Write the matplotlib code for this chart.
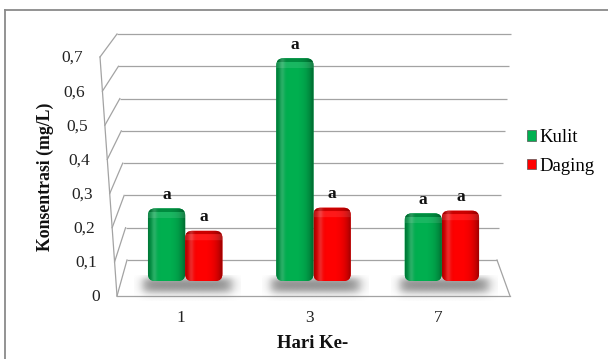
import numpy as np
import matplotlib
matplotlib.use("Agg")
import matplotlib.pyplot as plt
from matplotlib.patches import FancyBboxPatch, Patch
from matplotlib.colors import to_rgb

# ---- data ----
days = ["1", "3", "7"]
kulit = [0.220, 0.675, 0.205]
daging = [0.152, 0.222, 0.213]
kulit_sig = ["a", "a", "a"]
daging_sig = ["a", "a", "a"]
yticks = [0.0, 0.1, 0.2, 0.3, 0.4, 0.5, 0.6, 0.7]
ytick_labels = ["0", "0,1", "0,2", "0,3", "0,4", "0,5", "0,6", "0,7"]
series_names = ["Kulit", "Daging"]
series_colors = ["#00b050", "#ff0000"]

SERIF = ["Liberation Serif", "DejaVu Serif"]
GRID = "#a3a3a3"

W, H = 608, 359
fig = plt.figure(figsize=(W / 100, H / 100), dpi=100)
fig.patch.set_facecolor("white")

# pixel-space layer for the chart box, walls and text
frame = fig.add_axes([0, 0, 1, 1])
frame.set_xlim(0, W)
frame.set_ylim(H, 0)
frame.axis("off")

# outer chart border (top and left visible)
frame.plot([5, W], [9.5, 9.5], color="#8a8a8a", lw=1.3)
frame.plot([5, 5], [9.5, H], color="#8a8a8a", lw=1.3)

# ---- 3D box geometry (perspective walls) ----
vmax = yticks[-1]


def back_y(v):
    return 260 - v * (226 / vmax)


def back_left_x(v):
    return 127 - v * (10 / vmax)


def back_right_x(v):
    return 497 + v * (14 / vmax)


def front_y(v):
    return 296 - v * (239 / vmax)


def front_x(v):
    return 117 - v * (17 / vmax)


for v, lab in zip(yticks, ytick_labels):
    # back-wall gridline
    frame.plot([back_left_x(v), back_right_x(v)], [back_y(v), back_y(v)],
               color=GRID, lw=0.9, solid_capstyle="butt")
    # side-wall gridline
    frame.plot([back_left_x(v), front_x(v)], [back_y(v), front_y(v)],
               color=GRID, lw=0.9)
    frame.text(front_x(v) - 17, front_y(v) + 1, lab, ha="right", va="center",
               fontsize=12.5, family=SERIF, color="#222222")

# front edge of side wall
frame.plot([front_x(vmax), front_x(0)], [front_y(vmax), front_y(0)],
           color=GRID, lw=0.9)
# floor
frame.plot([front_x(0), 510], [front_y(0), front_y(0)], color=GRID, lw=0.9)
frame.plot([back_right_x(0), 510], [back_y(0), front_y(0)], color=GRID, lw=0.9)

# axis titles
frame.text(45, 177, "Konsentrasi (mg/L)", rotation=90, ha="center", va="center",
           fontsize=12.8, fontweight="bold", family=SERIF, color="#111111")
frame.text(313, 344, "Hari Ke-", ha="center", va="center",
           fontsize=13.5, fontweight="bold", family=SERIF, color="#111111")

# ---- bar plane (mid depth) ----
base_px = 281
px_per_unit_y = 330
ax_left, ax_right = 121, 506
ax = fig.add_axes([ax_left / W, (H - base_px) / H,
                   (ax_right - ax_left) / W, vmax * px_per_unit_y / H])
ax.set_xlim(-0.5, 2.5)
ax.set_ylim(0, vmax)
ax.axis("off")
px_per_unit_x = (ax_right - ax_left) / 3.0

x = np.arange(len(days))
w = 0.29
bars_k = ax.bar(x - w / 2, kulit, w, alpha=0)
bars_d = ax.bar(x + w / 2, daging, w, alpha=0)


def sig(z):
    return 1 / (1 + np.exp(-z))


# soft floor shadows under each bar pair
for i in x:
    left = i - w
    right = i + w
    pad_l, pad_r, pad_up, pad_dn = 14, 18, 6, 20
    wpx = (right - left) * px_per_unit_x
    px = np.linspace(-pad_l, wpx + pad_r, 120)
    py = np.linspace(-pad_up, pad_dn, 40)          # pixels below the base
    fx = sig((px + 5) / 3.0) * sig((wpx + 9 - px) / 3.5)
    fy = sig((py + 3) / 2.0) * sig((11 - py) / 2.5)
    alpha = 0.75 * fy[:, None] * fx[None, :]
    img = np.zeros((len(py), len(px), 4))
    img[..., :3] = 0.40
    img[..., 3] = alpha
    ax.imshow(img, extent=[left - pad_l / px_per_unit_x,
                           right + pad_r / px_per_unit_x,
                           -pad_dn / px_per_unit_y, pad_up / px_per_unit_y],
              origin="upper", aspect="auto", zorder=1,
              interpolation="bilinear", clip_on=False)


def shade_image(color, height_px, ncols=48):
    base = np.array(to_rgb(color))
    nrows = max(int(round(height_px)), 4)
    u = np.linspace(0, 1, ncols)
    horiz = 1 - 0.32 * (1 - np.sin(np.pi * u)) ** 2
    horiz = horiz - 0.10 * np.clip((u - 0.55) / 0.45, 0, 1)
    hl = 0.16 * np.exp(-((u - 0.16) / 0.07) ** 2)
    t = np.arange(nrows)
    vert = np.ones(nrows)
    vert[t < 4] = 0.8
    vhl = np.zeros(nrows)
    vhl[(t >= 4) & (t < 10)] = 0.10
    img = base[None, None, :] * horiz[None, :, None] * vert[:, None, None]
    mix = np.clip(hl[None, :] + vhl[:, None], 0, 0.4)[:, :, None]
    img = img * (1 - mix) + mix
    return np.clip(img, 0, 1)


rad_px = 7
rx = rad_px / px_per_unit_x
ry = rad_px / px_per_unit_y
for bars, color in ((bars_k, series_colors[0]), (bars_d, series_colors[1])):
    for b in bars:
        x0, y0, bw, bh = b.get_x(), b.get_y(), b.get_width(), b.get_height()
        body = FancyBboxPatch((x0, y0), bw, bh,
                              boxstyle=f"round,pad=0,rounding_size={rx}",
                              mutation_aspect=ry / rx,
                              facecolor=color, edgecolor="none",
                              zorder=3, clip_on=False)
        ax.add_patch(body)
        im = ax.imshow(shade_image(color, bh * px_per_unit_y),
                       extent=[x0, x0 + bw, y0, y0 + bh], aspect="auto",
                       zorder=4, interpolation="bilinear")
        im.set_clip_path(body)

ax.set_xlim(-0.5, 2.5)
ax.set_ylim(0, vmax)

# significance letters
for bars, sg in ((bars_k, kulit_sig), (bars_d, daging_sig)):
    for b, s in zip(bars, sg):
        ax.annotate(s, (b.get_x() + b.get_width() / 2, b.get_height()),
                    xytext=(0, 4), textcoords="offset points",
                    ha="center", va="bottom", fontsize=12.5, fontweight="bold",
                    family=SERIF, color="#111111", annotation_clip=False)

# category labels under the floor
for xi, d in zip(x, days):
    ax.annotate(d, (xi - 0.03, 0), xytext=(0, -27), textcoords="offset points",
                ha="center", va="center", fontsize=12.5, family=SERIF,
                color="#222222", annotation_clip=False)

# legend
handles = [Patch(facecolor=c, edgecolor="#555555", linewidth=0.5)
           for c in series_colors]
fig.legend(handles, series_names, loc="center left",
           bbox_to_anchor=(527 / W, 1 - 152 / H), frameon=False,
           prop={"family": SERIF, "size": 13.5}, handlelength=0.5,
           handleheight=0.5, handletextpad=0.15, labelspacing=0.6,
           borderaxespad=0, borderpad=0)

fig.savefig("out.png", dpi=100)
